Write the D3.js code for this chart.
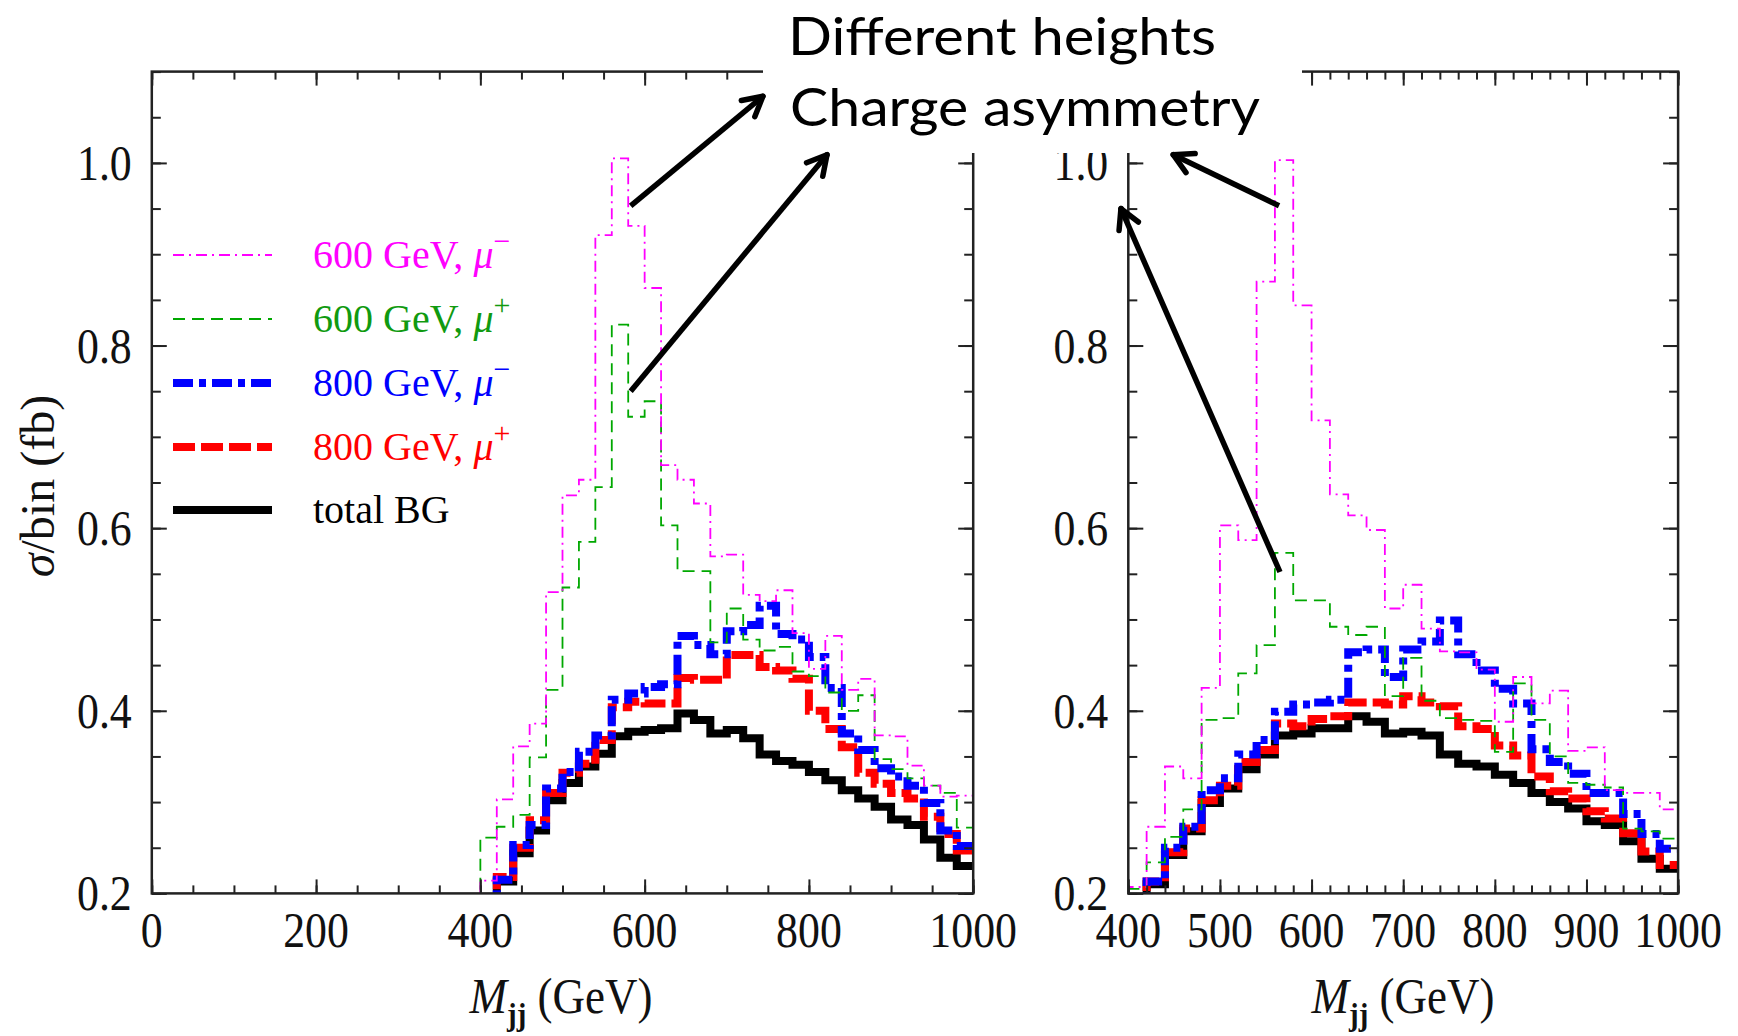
<!DOCTYPE html>
<html>
<head>
<meta charset="utf-8">
<script src="https://cdn.jsdelivr.net/npm/d3@7"></script>
<style>
  body { margin: 0; background: #fff; }
  svg { display: block; }
</style>
</head>
<body>
<svg id="chart" width="1738" height="1036"></svg>
<script>
// lower edges of the 20 GeV bins
var binLow = [400, 420, 440, 460, 480, 500, 520, 540, 560, 580,
              600, 620, 640, 660, 680, 700, 720, 740, 760, 780,
              800, 820, 840, 860, 880, 900, 920, 940, 960, 980];
var binHigh = 1000;

// left panel, sigma/bin (fb)
var leftMagenta = [0.214, 0.303, 0.361, 0.386, 0.530, 0.636, 0.653, 0.921, 1.005, 0.931,
                   0.863, 0.669, 0.653, 0.627, 0.569, 0.571, 0.527, 0.520, 0.532, 0.485,
                   0.446, 0.482, 0.423, 0.435, 0.373, 0.372, 0.340, 0.318, 0.306, 0.307];
var leftGreen   = [0.261, 0.273, 0.286, 0.349, 0.423, 0.535, 0.585, 0.645, 0.823, 0.722,
                   0.739, 0.603, 0.553, 0.553, 0.475, 0.512, 0.478, 0.466, 0.470, 0.443,
                   0.438, 0.420, 0.400, 0.417, 0.347, 0.336, 0.326, 0.318, 0.310, 0.272];
var leftBlue    = [0.190, 0.215, 0.253, 0.275, 0.315, 0.333, 0.355, 0.373, 0.412, 0.419,
                   0.426, 0.429, 0.482, 0.472, 0.462, 0.487, 0.494, 0.515, 0.484, 0.478,
                   0.459, 0.425, 0.375, 0.357, 0.337, 0.328, 0.318, 0.299, 0.269, 0.252];
var leftRed     = [0.190, 0.218, 0.250, 0.280, 0.310, 0.332, 0.342, 0.368, 0.404, 0.410,
                   0.408, 0.408, 0.436, 0.434, 0.434, 0.461, 0.461, 0.448, 0.444, 0.435,
                   0.400, 0.380, 0.360, 0.332, 0.320, 0.310, 0.304, 0.284, 0.265, 0.247];
var leftBlack   = [0.190, 0.213, 0.244, 0.269, 0.302, 0.321, 0.339, 0.353, 0.372, 0.377,
                   0.379, 0.381, 0.397, 0.390, 0.375, 0.379, 0.370, 0.352, 0.345, 0.341,
                   0.333, 0.324, 0.313, 0.304, 0.295, 0.281, 0.275, 0.259, 0.239, 0.230];

// right panel
var rightMagenta = [0.207, 0.273, 0.339, 0.326, 0.425, 0.603, 0.587, 0.870, 1.003, 0.844,
                    0.718, 0.637, 0.614, 0.598, 0.512, 0.538, 0.490, 0.465, 0.464, 0.445,
                    0.388, 0.437, 0.408, 0.422, 0.356, 0.360, 0.313, 0.310, 0.310, 0.292];
var rightGreen   = [0.205, 0.234, 0.262, 0.292, 0.390, 0.392, 0.441, 0.472, 0.573, 0.521,
                    0.521, 0.492, 0.483, 0.492, 0.416, 0.458, 0.411, 0.392, 0.390, 0.389,
                    0.355, 0.430, 0.390, 0.350, 0.321, 0.319, 0.316, 0.271, 0.268, 0.260];
var rightBlue    = [0.190, 0.213, 0.250, 0.273, 0.313, 0.326, 0.352, 0.368, 0.399, 0.407,
                    0.409, 0.412, 0.464, 0.467, 0.437, 0.467, 0.476, 0.499, 0.462, 0.444,
                    0.424, 0.408, 0.358, 0.344, 0.331, 0.310, 0.310, 0.287, 0.265, 0.249];
var rightRed     = [0.190, 0.213, 0.245, 0.271, 0.302, 0.318, 0.344, 0.357, 0.386, 0.383,
                    0.391, 0.394, 0.409, 0.409, 0.407, 0.416, 0.409, 0.405, 0.383, 0.380,
                    0.362, 0.351, 0.328, 0.312, 0.304, 0.290, 0.282, 0.266, 0.246, 0.231];
var rightBlack   = [0.190, 0.210, 0.242, 0.268, 0.299, 0.315, 0.336, 0.352, 0.373, 0.375,
                    0.381, 0.381, 0.394, 0.388, 0.375, 0.377, 0.373, 0.352, 0.342, 0.339,
                    0.330, 0.321, 0.310, 0.300, 0.293, 0.279, 0.275, 0.257, 0.238, 0.227];

var seriesNames = ["600 GeV, ", "600 GeV, ", "800 GeV, ", "800 GeV, ", "total BG"];
var seriesCharge = ["\u2212", "+", "\u2212", "+", ""];

var leftXLabels = [0, 200, 400, 600, 800, 1000];
var rightXLabels = [400, 500, 600, 700, 800, 900, 1000];
var yLabels = [0.2, 0.4, 0.6, 0.8, 1.0];

var noteLines = ["Different heights", "Charge asymmetry"];

// styles, in legend order: magenta, green, blue, red, black
var styles = [
  { color: "#ff00ff", text: "#ff00ff", width: 1.8, dash: "11,5,2,5" },
  { color: "#00a800", text: "#109a10", width: 1.8, dash: "12,7" },
  { color: "#0000ff", text: "#0000ff", width: 8, dash: "20,6,7,6" },
  { color: "#ff0000", text: "#ff0000", width: 8, dash: "22,6" },
  { color: "#000000", text: "#000000", width: 8, dash: null }
];

var svg = d3.select("#chart");
svg.append("rect").attr("width", 1738).attr("height", 1036).attr("fill", "#fff");

var yBot = 893.4, yTop = 71.6;
var y = d3.scaleLinear().domain([0.2, 1.1]).range([yBot, yTop]);

var panels = [
  { id: "left", range: [151.8, 973.2], domain: [0, 1000], minorStep: 50, labels: leftXLabels,
    series: [leftMagenta, leftGreen, leftBlue, leftRed, leftBlack], titleX: 561, legend: true },
  { id: "right", range: [1128.3, 1678.1], domain: [400, 1000], minorStep: 20, labels: rightXLabels,
    series: [rightMagenta, rightGreen, rightBlue, rightRed, rightBlack], titleX: 1403, legend: false }
];

var serif = "'Liberation Serif', 'Times New Roman', serif";
var squeeze = 0.86;

panels.forEach(function(p) {
  p.x = d3.scaleLinear().domain(p.domain).range(p.range);
  var x = p.x;
  var g = svg.append("g").attr("class", "panel-" + p.id);

  g.append("clipPath").attr("id", "clip-" + p.id)
    .append("rect")
    .attr("x", p.range[0]).attr("y", yTop)
    .attr("width", p.range[1] - p.range[0]).attr("height", yBot - yTop);

  var line = d3.line()
    .x(function(d) { return x(d[0]); })
    .y(function(d) { return y(d[1]); })
    .curve(d3.curveStepAfter);

  // draw order: black at the bottom, then red, blue, green, magenta
  var order = [4, 3, 2, 1, 0];
  var plot = g.append("g").attr("clip-path", "url(#clip-" + p.id + ")");
  order.forEach(function(k) {
    var vals = p.series[k];
    var pts = [[binLow[0], 0.1]];
    binLow.forEach(function(b, i) { pts.push([b, vals[i]]); });
    pts.push([binHigh, vals[vals.length - 1]]);
    var s = styles[k];
    plot.append("path")
      .attr("d", line(pts))
      .attr("fill", "none")
      .attr("stroke", s.color)
      .attr("stroke-width", s.width)
      .attr("stroke-dasharray", s.dash)
      .attr("stroke-linejoin", "miter");
  });

  // ticks, pointing inwards on all four sides
  var minor = d3.range(p.domain[0], p.domain[1] + 0.1, p.minorStep);
  var yMinor = d3.range(0.2, 1.1001, 0.05);
  var tickStyle = function(sel) {
    sel.select(".domain").remove();
    sel.selectAll("line").attr("stroke", "#222").attr("stroke-width", 2);
  };
  g.append("g").attr("transform", "translate(0," + yBot + ")")
    .call(d3.axisBottom(x).tickValues(minor).tickSize(-8).tickFormat("")).call(tickStyle);
  g.append("g").attr("transform", "translate(0," + yBot + ")")
    .call(d3.axisBottom(x).tickValues(p.labels).tickSize(-14).tickFormat("")).call(tickStyle);
  g.append("g").attr("transform", "translate(0," + yTop + ")")
    .call(d3.axisTop(x).tickValues(minor).tickSize(-8).tickFormat("")).call(tickStyle);
  g.append("g").attr("transform", "translate(0," + yTop + ")")
    .call(d3.axisTop(x).tickValues(p.labels).tickSize(-14).tickFormat("")).call(tickStyle);
  g.append("g").attr("transform", "translate(" + p.range[0] + ",0)")
    .call(d3.axisLeft(y).tickValues(yMinor).tickSize(-9).tickFormat("")).call(tickStyle);
  g.append("g").attr("transform", "translate(" + p.range[0] + ",0)")
    .call(d3.axisLeft(y).tickValues(yLabels).tickSize(-15).tickFormat("")).call(tickStyle);
  g.append("g").attr("transform", "translate(" + p.range[1] + ",0)")
    .call(d3.axisRight(y).tickValues(yMinor).tickSize(-9).tickFormat("")).call(tickStyle);
  g.append("g").attr("transform", "translate(" + p.range[1] + ",0)")
    .call(d3.axisRight(y).tickValues(yLabels).tickSize(-15).tickFormat("")).call(tickStyle);

  g.append("rect")
    .attr("x", p.range[0]).attr("y", yTop)
    .attr("width", p.range[1] - p.range[0]).attr("height", yBot - yTop)
    .attr("fill", "none").attr("stroke", "#222").attr("stroke-width", 2.5);

  // tick labels (the original figure is stretched vertically)
  g.selectAll(".xl").data(p.labels).enter().append("g")
    .attr("transform", function(d) { return "translate(" + x(d) + ",947) scale(" + squeeze + ",1)"; })
    .append("text")
    .attr("text-anchor", "middle")
    .attr("font-family", serif).attr("font-size", 51).attr("fill", "#111")
    .text(function(d) { return d; });

  g.selectAll(".yl").data(yLabels).enter().append("g")
    .attr("transform", function(d) { return "translate(" + (p.range[0] - 20) + "," + (y(d) + 17) + ") scale(" + squeeze + ",1)"; })
    .append("text")
    .attr("text-anchor", "end")
    .attr("font-family", serif).attr("font-size", 51).attr("fill", "#111")
    .text(function(d) { return d.toFixed(1); });

  // x title
  var xt = g.append("g").attr("transform", "translate(" + p.titleX + ",1013) scale(0.9,1)")
    .append("text").attr("text-anchor", "middle")
    .attr("font-family", serif).attr("font-size", 50).attr("fill", "#111");
  xt.append("tspan").attr("font-style", "italic").text("M");
  xt.append("tspan").attr("font-size", 32).attr("font-weight", "bold").attr("dy", 12).text("jj");
  xt.append("tspan").attr("dy", -12).text(" (GeV)");

  if (p.legend) {
    var lg = g.append("g");
    var rowY = [255, 319, 383, 447, 510];
    styles.forEach(function(s, k) {
      lg.append("line")
        .attr("x1", 173).attr("x2", 272)
        .attr("y1", rowY[k]).attr("y2", rowY[k])
        .attr("stroke", s.color).attr("stroke-width", s.width)
        .attr("stroke-dasharray", s.dash);
      var t = lg.append("text")
        .attr("x", 313).attr("y", rowY[k] + 13)
        .attr("font-family", serif).attr("font-size", 40).attr("fill", s.text);
      t.append("tspan").text(seriesNames[k]);
      if (seriesCharge[k]) {
        t.append("tspan").attr("font-style", "italic").text("\u03bc");
        t.append("tspan").attr("font-size", 30).attr("dy", -17).text(seriesCharge[k]);
      }
    });
  }
});

// y title
var yt = svg.append("text")
  .attr("transform", "translate(54,486) rotate(-90)")
  .attr("text-anchor", "middle")
  .attr("font-family", serif).attr("font-size", 48).attr("fill", "#111");
yt.append("tspan").attr("font-style", "italic").text("\u03c3");
yt.append("tspan").text("/bin (fb)");

// white note box over the top of both frames
svg.append("rect").attr("x", 763).attr("y", 0).attr("width", 539).attr("height", 153).attr("fill", "#fff");
var noteX = [788, 790], noteY = [55, 126], noteLen = [428, 470];
noteLines.forEach(function(s, i) {
  svg.append("text")
    .attr("x", noteX[i]).attr("y", noteY[i])
    .attr("font-family", "Lato, 'Open Sans', sans-serif").attr("font-size", 53)
    .attr("textLength", noteLen[i]).attr("lengthAdjust", "spacingAndGlyphs")
    .attr("fill", "#000")
    .text(s);
});

// arrows, tail and head in the data coordinates of their panel
var arrows = [
  { panel: 0, from: [583, 0.953], to: [744, 1.073] },
  { panel: 0, from: [583, 0.750], to: [822, 1.009] },
  { panel: 1, from: [564.5, 0.953], to: [449, 1.009] },
  { panel: 1, from: [565.5, 0.552], to: [392, 0.950] }
];
var ag = svg.append("g").attr("stroke", "#000").attr("stroke-width", 5.5).attr("stroke-linecap", "round");
arrows.forEach(function(a) {
  var x = panels[a.panel].x;
  var x1 = x(a.from[0]), y1 = y(a.from[1]), x2 = x(a.to[0]), y2 = y(a.to[1]);
  ag.append("line").attr("x1", x1).attr("y1", y1).attr("x2", x2).attr("y2", y2).attr("stroke-linecap", "butt");
  var ang = Math.atan2(y2 - y1, x2 - x1);
  [-0.5, 0.5].forEach(function(da) {
    ag.append("line")
      .attr("x1", x2).attr("y1", y2)
      .attr("x2", x2 - 22 * Math.cos(ang + da))
      .attr("y2", y2 - 22 * Math.sin(ang + da));
  });
});
</script>
</body>
</html>
